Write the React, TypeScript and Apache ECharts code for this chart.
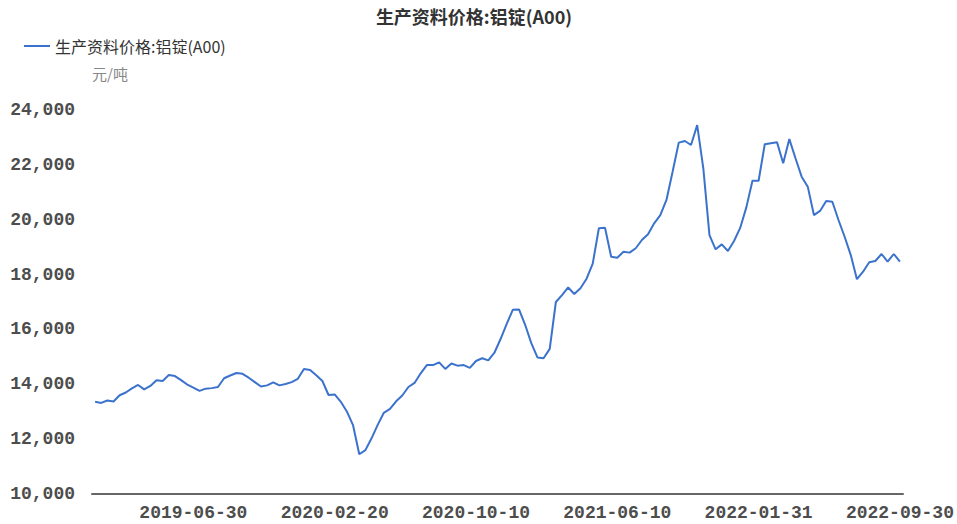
import React, { useEffect, useRef } from "react";
import * as echarts from "echarts";

const TITLE = "生产资料价格:铝锭(A00)";
const SERIES_NAME = "生产资料价格:铝锭(A00)";
const UNIT = "元/吨";

// dekad dates (10th, 20th, month end); two holiday dekads are missing in the source
const START_DATE = "2019-01-20";
const END_DATE = "2022-09-30";
const MISSING_DATES = ["2021-02-10", "2022-02-10"];

const pad = (n: number) => (n < 10 ? "0" + n : "" + n);
function buildDates(): string[] {
  const out: string[] = [];
  for (let y = 2019; y <= 2022; y++) {
    for (let m = 1; m <= 12; m++) {
      const end = new Date(y, m, 0).getDate();
      for (const d of [10, 20, end]) {
        const s = `${y}-${pad(m)}-${pad(d)}`;
        if (s < START_DATE || s > END_DATE || MISSING_DATES.includes(s)) continue;
        out.push(s);
      }
    }
  }
  return out;
}
const dates = buildDates();

const prices = [
  13360, 13320, 13410, 13370, 13600, 13700, 13850, 13975, 13815, 13940,
  14150, 14120, 14340, 14300, 14150, 13990, 13880, 13760, 13840, 13860,
  13900, 14220, 14320, 14410, 14380, 14240, 14080, 13920, 13960, 14070,
  13960, 14010, 14080, 14200, 14560, 14520, 14330, 14120, 13610, 13630,
  13360, 13000, 12500, 11450, 11600, 12030, 12520, 12960, 13100, 13380,
  13590, 13900, 14050, 14400, 14700, 14700, 14800, 14560, 14760, 14680,
  14700, 14600, 14850, 14950, 14870, 15150, 15650, 16200, 16720, 16730,
  16170, 15500, 14980, 14950, 15290, 17000, 17250, 17530, 17290, 17500,
  17850, 18400, 19690, 19710, 18650, 18615, 18830, 18800, 18960, 19260,
  19470, 19870, 20170, 20720, 21750, 22810, 22870, 22725, 23450, 21875,
  19440, 18920, 19100, 18860, 19225, 19700, 20450, 21420, 21420, 22750,
  22790, 22820, 22060, 22940, 22240, 21570, 21205, 20170, 20320, 20680,
  20655, 19990, 19380, 18710, 17830, 18105, 18450, 18495, 18750, 18470,
  18750, 18470,
];

const LABEL_FIRST = 16;
const LABEL_STEP = 23;

export default function App() {
  const ref = useRef<HTMLDivElement>(null);
  useEffect(() => {
    if (!ref.current) return;
    const chart = echarts.init(ref.current, undefined, { renderer: "svg" });
    chart.setOption({
      animation: false,
      backgroundColor: "#ffffff",
      title: {
        text: TITLE,
        left: 469,
        textAlign: "center",
        top: 2,
        textStyle: {
          fontFamily: "Noto Sans CJK SC",
          fontSize: 18,
          fontWeight: "bold",
          color: "#333333",
        },
      },
      legend: {
        left: 19,
        top: 33,
        icon: "rect",
        itemWidth: 26,
        itemHeight: 2,
        itemGap: 6,
        textStyle: {
          fontFamily: "Noto Sans CJK SC",
          fontSize: 16,
          color: "#333333",
        },
        data: [SERIES_NAME],
      },
      grid: { left: 92, right: 54, top: 110, bottom: 30, containLabel: false },
      xAxis: {
        type: "category",
        data: dates,
        boundaryGap: true,
        axisLine: { lineStyle: { color: "#666666", width: 2 } },
        axisTick: { show: false },
        splitLine: { show: false },
        axisLabel: {
          interval: (idx: number) => idx >= LABEL_FIRST && (idx - LABEL_FIRST) % LABEL_STEP === 0,
          margin: 10,
          fontFamily: "Liberation Mono",
          fontWeight: "bold",
          fontSize: 18,
          color: "#4d4d4d",
        },
      },
      yAxis: {
        type: "value",
        min: 10000,
        max: 24000,
        interval: 2000,
        name: UNIT,
        nameGap: 29,
        nameTextStyle: {
          align: "left",
          fontFamily: "Noto Sans CJK SC",
          fontSize: 15,
          color: "#888888",
        },
        axisLine: { show: false },
        axisTick: { show: false },
        splitLine: { show: false },
        axisLabel: {
          margin: 17,
          fontFamily: "Liberation Mono",
          fontWeight: "bold",
          fontSize: 18,
          color: "#4d4d4d",
          formatter: (v: number) => v.toLocaleString("en-US"),
        },
      },
      series: [
        {
          name: SERIES_NAME,
          type: "line",
          data: prices,
          symbol: "none",
          showSymbol: false,
          lineStyle: { color: "#3b73cc", width: 2 },
          itemStyle: { color: "#3b73cc" },
        },
      ],
    });
    return () => chart.dispose();
  }, []);
  return (
    <div
      ref={ref}
      style={{ position: "fixed", left: 0, top: 0, width: 957, height: 524, background: "#fff" }}
    />
  );
}
